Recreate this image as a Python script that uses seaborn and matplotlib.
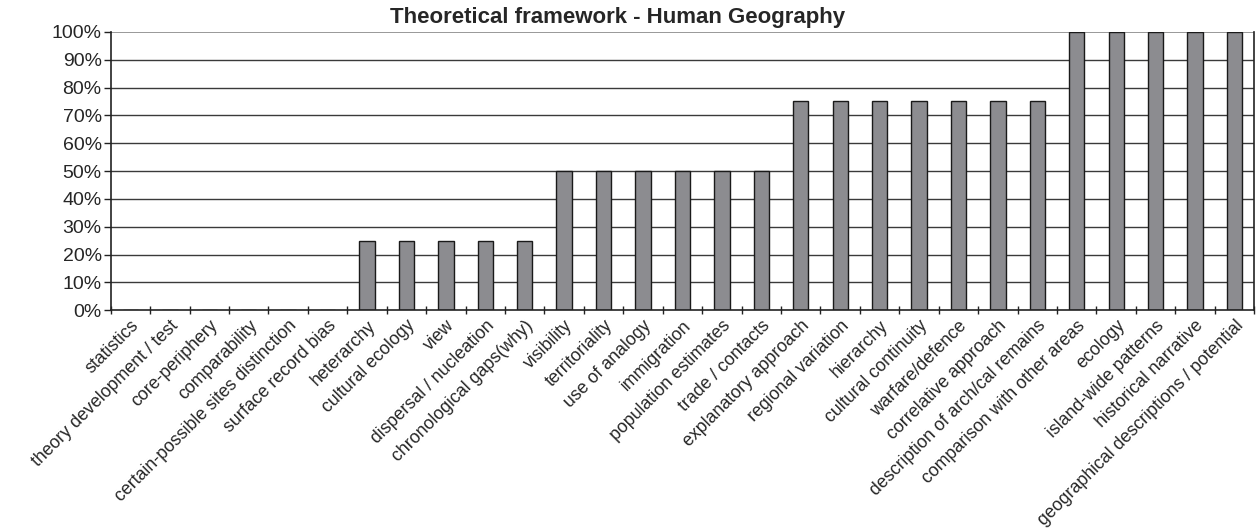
import numpy as np
import pandas as pd
import matplotlib
matplotlib.use('Agg')
import matplotlib.pyplot as plt
import seaborn as sns
from matplotlib.ticker import PercentFormatter, FixedLocator

categories = [
    'statistics', 'theory development / test', 'core-periphery', 'comparability',
    'certain-possible sites distinction', 'surface record bias', 'heterarchy',
    'cultural ecology', 'view', 'dispersal / nucleation', 'chronological gaps(why)',
    'visibility', 'territoriality', 'use of analogy', 'immigration',
    'population estimates', 'trade / contacts', 'explanatory approach',
    'regional variation', 'hierarchy', 'cultural continuity', 'warfare/defence',
    'correlative approach', 'description of arch/cal remains',
    'comparison with other areas', 'ecology', 'island-wide patterns',
    'historical narrative', 'geographical descriptions / potential',
]
shares = [
    0.0, 0.0, 0.0, 0.0, 0.0, 0.0,
    0.25, 0.25, 0.25, 0.25, 0.25,
    0.50, 0.50, 0.50, 0.50, 0.50, 0.50,
    0.75, 0.75, 0.75, 0.75, 0.75, 0.75, 0.75,
    1.0, 1.0, 1.0, 1.0, 1.0,
]
title = 'Theoretical framework - Human Geography'

df = pd.DataFrame({'category': categories, 'share': shares})

sns.set_style('white')
plt.rcParams['font.family'] = ['Liberation Sans', 'DejaVu Sans']

fig = plt.figure(figsize=(12.58, 5.32), dpi=100)
ax = fig.add_axes([0.088, 0.417, 0.909, 0.523])

# horizontal grid lines drawn below the bars
for y in np.arange(0.1, 1.0, 0.1):
    ax.axhline(y, color='#3a3a3a', lw=1.0, zorder=0)
ax.axhline(1.0, color='#888888', lw=1.2, zorder=0)

sns.barplot(data=df, x='category', y='share', color='#8c8c90', saturation=1,
            edgecolor='#1a1a1a', linewidth=1.0, width=0.39, ax=ax, zorder=2)

n = len(categories)
ax.set_xlim(-0.5, n - 0.5)
ax.set_ylim(0, 1.0)
ax.yaxis.set_major_locator(FixedLocator(np.arange(0, 1.01, 0.1)))
ax.yaxis.set_major_formatter(PercentFormatter(1.0, decimals=0))
ax.tick_params(axis='y', which='major', length=5, width=1, direction='out',
               color='#222222', labelsize=14, pad=1.5, left=True)

# category labels at bar centres, tick marks at category boundaries
ax.set_xticks(range(n))
ax.set_xticklabels(categories, rotation=45, ha='right', rotation_mode='anchor',
                   fontsize=12.8)
ax.tick_params(axis='x', which='major', length=0, pad=5)
ax.xaxis.set_minor_locator(FixedLocator(np.arange(-0.5, n, 1.0)))
ax.tick_params(axis='x', which='minor', length=6, width=1, direction='inout',
               color='#222222', bottom=True)

ax.set_xlabel('')
ax.set_ylabel('')
for side in ['left', 'bottom', 'right']:
    ax.spines[side].set_visible(True)
    ax.spines[side].set_color('#222222')
    ax.spines[side].set_linewidth(1.2)
ax.spines['top'].set_visible(False)

fig.text(0.491, 0.957, title, fontsize=16, fontweight='bold',
         ha='center', va='baseline')

fig.savefig('out.png', dpi=100)
